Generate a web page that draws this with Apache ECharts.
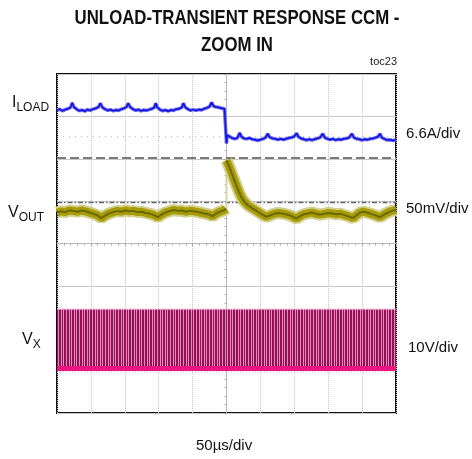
<!DOCTYPE html>
<html>
<head>
<meta charset="utf-8">
<script src="https://cdn.jsdelivr.net/npm/echarts@6/dist/echarts.min.js"></script>
<style>
  html, body { margin: 0; padding: 0; background: #fff; }
  #scope { width: 472px; height: 459px; }
</style>
</head>
<body>
<div id="scope"></div>
<script>
// screen is 10 x 8 divisions, centred on 0
const xTicks = [-5, 5];
const yTicks = [-4, 4];

// reference markers (div)
const refDotted = 2.52;
const refDashed = 2.02;
const refDashDot = 0.97;

// I_LOAD trace (x div, y div)
const iLoad = [
  [-5.00,3.14],[-4.92,3.17],[-4.84,3.13],[-4.76,3.16],[-4.68,3.18],[-4.60,3.21],[-4.55,3.32],[-4.50,3.22],
  [-4.42,3.17],[-4.34,3.13],[-4.26,3.15],[-4.18,3.12],[-4.10,3.16],[-4.02,3.14],[-3.94,3.17],[-3.86,3.19],
  [-3.78,3.22],[-3.72,3.31],[-3.66,3.21],[-3.58,3.17],[-3.50,3.14],[-3.42,3.16],[-3.34,3.13],[-3.26,3.15],
  [-3.18,3.14],[-3.10,3.17],[-3.02,3.19],[-2.95,3.22],[-2.90,3.31],[-2.84,3.22],[-2.76,3.17],[-2.68,3.14],
  [-2.60,3.16],[-2.52,3.13],[-2.44,3.15],[-2.36,3.14],[-2.28,3.16],[-2.20,3.18],[-2.13,3.21],[-2.09,3.31],
  [-2.04,3.21],[-1.96,3.16],[-1.88,3.13],[-1.80,3.15],[-1.72,3.12],[-1.64,3.15],[-1.56,3.14],[-1.48,3.17],
  [-1.40,3.18],[-1.32,3.21],[-1.27,3.31],[-1.22,3.22],[-1.14,3.17],[-1.06,3.14],[-0.98,3.16],[-0.90,3.14],
  [-0.82,3.16],[-0.74,3.15],[-0.66,3.18],[-0.58,3.20],[-0.50,3.23],[-0.44,3.33],[-0.38,3.24],[-0.30,3.22],
  [-0.22,3.21],[-0.14,3.19],[-0.06,3.18],[-0.01,3.17],
  [0.00,2.36],[0.02,2.55],[0.08,2.53],[0.16,2.49],[0.24,2.47],[0.32,2.49],[0.36,2.52],[0.39,2.61],
  [0.44,2.52],[0.52,2.48],[0.60,2.47],[0.68,2.49],[0.76,2.46],[0.84,2.45],[0.92,2.43],[1.00,2.45],
  [1.08,2.47],[1.15,2.50],[1.22,2.59],[1.27,2.51],[1.36,2.48],[1.44,2.47],[1.52,2.45],[1.60,2.47],
  [1.68,2.45],[1.76,2.47],[1.84,2.49],[1.92,2.50],[2.00,2.53],[2.07,2.60],[2.12,2.52],[2.20,2.48],
  [2.28,2.46],[2.36,2.44],[2.44,2.46],[2.52,2.44],[2.60,2.46],[2.68,2.48],[2.76,2.50],[2.84,2.59],
  [2.90,2.50],[2.98,2.47],[3.06,2.45],[3.14,2.47],[3.22,2.44],[3.30,2.46],[3.38,2.45],[3.46,2.47],
  [3.54,2.48],[3.62,2.50],[3.70,2.59],[3.76,2.50],[3.84,2.47],[3.92,2.46],[4.00,2.44],[4.08,2.46],
  [4.16,2.45],[4.24,2.47],[4.32,2.48],[4.40,2.50],[4.47,2.52],[4.53,2.59],[4.58,2.50],[4.66,2.47],
  [4.74,2.44],[4.82,2.45],[4.90,2.43],[5.00,2.44]
];

// V_OUT before the load step
const vOutPre = [
  [-5.00,0.73],[-4.88,0.76],[-4.76,0.74],[-4.64,0.78],[-4.52,0.77],[-4.40,0.75],[-4.28,0.78],[-4.16,0.76],
  [-4.04,0.73],[-3.92,0.70],[-3.80,0.66],[-3.69,0.60],[-3.58,0.66],[-3.46,0.71],[-3.34,0.74],[-3.22,0.77],
  [-3.10,0.75],[-2.98,0.78],[-2.86,0.76],[-2.74,0.77],[-2.62,0.74],[-2.50,0.75],[-2.38,0.72],[-2.26,0.70],
  [-2.14,0.67],[-2.03,0.62],[-1.92,0.68],[-1.80,0.73],[-1.68,0.76],[-1.56,0.79],[-1.44,0.77],[-1.32,0.78],
  [-1.20,0.75],[-1.08,0.77],[-0.96,0.76],[-0.84,0.74],[-0.72,0.72],[-0.60,0.70],[-0.50,0.68],[-0.41,0.64],
  [-0.32,0.70],[-0.22,0.74],[-0.12,0.77],[-0.04,0.80],[-0.01,0.82]
];

// V_OUT overshoot and recovery after the step
const vOutPost = [
  [0.00,1.96],[0.06,1.85],[0.12,1.73],[0.20,1.56],[0.28,1.39],[0.36,1.23],[0.44,1.09],[0.52,0.99],
  [0.62,0.91],[0.74,0.84],[0.86,0.78],[0.98,0.72],[1.08,0.67],[1.18,0.63],[1.28,0.66],[1.40,0.70],
  [1.52,0.72],[1.64,0.71],[1.76,0.69],[1.88,0.66],[1.98,0.62],[2.07,0.59],[2.16,0.64],[2.28,0.69],
  [2.40,0.71],[2.52,0.73],[2.64,0.70],[2.76,0.68],[2.88,0.70],[3.00,0.72],[3.12,0.71],[3.24,0.69],
  [3.36,0.70],[3.48,0.67],[3.60,0.64],[3.73,0.60],[3.84,0.67],[3.94,0.73],[4.04,0.75],[4.14,0.73],
  [4.26,0.70],[4.38,0.67],[4.53,0.62],[4.64,0.68],[4.76,0.73],[4.88,0.77],[5.00,0.79]
];

// V_X switching node: pulse top / low rail
const vxHigh = -1.55;
const vxLow = -2.95;
const vxFloor = -3.03;

// stripe pattern for the dense switching pulses
function pulseTexture() {
  let c = document.createElement("canvas");
  c.width = 13;
  c.height = 4;
  let g = c.getContext("2d");
  g.fillStyle = "#951059";
  g.fillRect(0, 0, 13, 4);
  g.fillStyle = "#e48dbb";
  [1, 4, 6, 9, 11].forEach((x) => g.fillRect(x, 0, 1, 4));
  return c;
}

function flat(v) {
  return [[xTicks[0], v], [xTicks[1], v]];
}

let vOut = vOutPre.concat([["-", "-"]], vOutPost);
let stepEdge = [[0, vOutPre[vOutPre.length - 1][1]], [0, vOutPost[0][1]]];

let chart = echarts.init(document.getElementById("scope"), null, { renderer: "canvas" });
let font = "'Liberation Sans', Arial, sans-serif";

function traceLine(name, data, color, width, extra) {
  return Object.assign(
    {
      name: name,
      type: "line",
      data: data,
      symbol: "none",
      silent: true,
      connectNulls: false,
      lineStyle: { color: color, width: width, join: "bevel" },
    },
    extra || {}
  );
}

function label(txt, sub, x, y) {
  return {
    type: "text",
    left: x,
    top: y,
    style: {
      text: "{a|" + txt + "}{b|" + sub + "}",
      rich: {
        a: { fontSize: 16, fontFamily: font, fill: "#111", padding: [0, 0, 4, 0] },
        b: { fontSize: 12, fontFamily: font, fill: "#111", padding: [6, 0, 0, 0] },
      },
    },
  };
}

let option = {
  animation: false,
  backgroundColor: "#fff",
  grid: {
    left: 57,
    top: 74,
    width: 339,
    height: 339,
    show: true,
    borderColor: "#111",
    borderWidth: 2,
  },
  xAxis: {
    type: "value",
    min: xTicks[0],
    max: xTicks[1],
    interval: 1,
    axisLine: { onZero: true, lineStyle: { color: "#b8b8b8" } },
    axisTick: { show: true, length: 3, lineStyle: { color: "#aaa" } },
    minorTick: { show: true, splitNumber: 5, length: 2, lineStyle: { color: "#aaa" } },
    splitLine: { show: true, lineStyle: { color: "#c4c4c4", type: "dotted" } },
    axisLabel: { show: false },
  },
  yAxis: {
    type: "value",
    min: yTicks[0],
    max: yTicks[1],
    interval: 1,
    axisLine: { onZero: true, lineStyle: { color: "#b8b8b8" } },
    axisTick: { show: true, length: 3, lineStyle: { color: "#aaa" } },
    minorTick: { show: true, splitNumber: 5, length: 2, lineStyle: { color: "#aaa" } },
    splitLine: { show: true, lineStyle: { color: "#c8c8c8" } },
    axisLabel: { show: false },
  },
  series: [
    traceLine("VX", flat(vxHigh), "#e9a2c7", 1, {
      areaStyle: { origin: vxLow, color: { image: pulseTexture(), repeat: "repeat" }, opacity: 1 },
    }),
    traceLine("VXfloor", flat(vxFloor), "#e6a6c8", 1, {
      lineStyle: { color: "#e6a6c8", width: 1, type: [1, 2] },
    }),
    traceLine("VXlow", flat(vxLow), "#ea1580", 5),
    traceLine("refDotted", flat(refDotted), "#b5b5b5", 1, {
      lineStyle: { color: "#b5b5b5", width: 1, type: [1, 5] },
    }),
    traceLine("refDashed", flat(refDashed), "#7a7a7a", 2, {
      lineStyle: { color: "#7a7a7a", width: 2, type: [9, 4] },
    }),
    traceLine("refDashDot", flat(refDashDot), "#666", 1.5, {
      lineStyle: { color: "#666", width: 1.5, type: [5, 2, 1.5, 2] },
    }),
    traceLine("VOUTedge", stepEdge, "#d6d3a6", 2),
    traceLine("VOUThalo", vOut, "#d3cf8c", 12),
    traceLine("VOUT", vOut, "#a69d08", 8),
    traceLine("VOUTcore", vOut, "#6c6600", 2),
    traceLine("ILOADhalo", iLoad, "#6d6df2", 3.5),
    traceLine("ILOAD", iLoad, "#1010d8", 1.5),
  ],
  graphic: [
    {
      type: "text",
      x: 237,
      y: 5,
      scaleX: 0.84,
      style: {
        text: "UNLOAD-TRANSIENT RESPONSE CCM -\nZOOM IN",
        font: "bold 20px " + font,
        fill: "#111",
        textAlign: "center",
        lineHeight: 27,
      },
    },
    {
      type: "text",
      right: 75,
      top: 56,
      style: { text: "toc23", font: "11px " + font, fill: "#222" },
    },
    label("I", "LOAD", 12, 95),
    label("V", "OUT", 8, 205),
    label("V", "X", 22, 332),
    { type: "text", left: 406, top: 126, style: { text: "6.6A/div", font: "15px " + font, fill: "#111" } },
    { type: "text", left: 406, top: 201, style: { text: "50mV/div", font: "15px " + font, fill: "#111" } },
    { type: "text", left: 408, top: 340, style: { text: "10V/div", font: "15px " + font, fill: "#111" } },
    { type: "text", left: 196, top: 438, style: { text: "50µs/div", font: "15px " + font, fill: "#111" } },
  ],
};
chart.setOption(option);
</script>
</body>
</html>
